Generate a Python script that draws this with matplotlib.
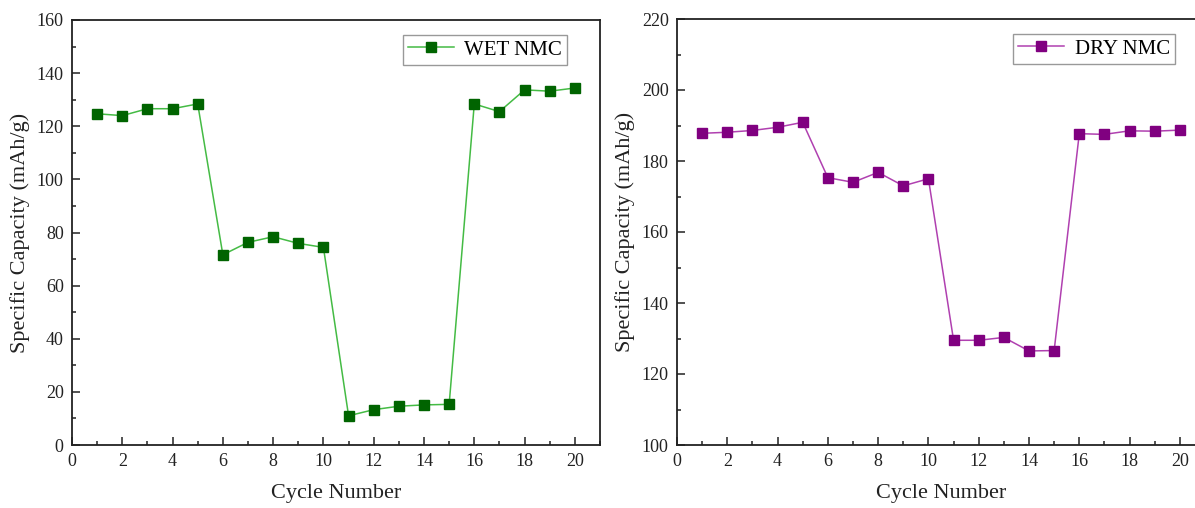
import matplotlib
matplotlib.use('Agg')
import matplotlib.pyplot as plt
from matplotlib.ticker import MultipleLocator

# Cycle numbers shared by both panels
cycles = list(range(1, 21))
# Specific capacity of the wet-processed NMC (mAh/g)
wet_capacity = [124.7, 124.0, 126.6, 126.6, 128.4, 71.6, 76.3, 78.4, 75.9, 74.4,
                11.0, 13.3, 14.6, 15.1, 15.3, 128.4, 125.5, 133.7, 133.2, 134.4]
# Specific capacity of the dry-processed NMC (mAh/g)
dry_capacity = [187.8, 188.1, 188.6, 189.5, 190.9, 175.3, 174.0, 176.8, 173.0, 175.0,
                129.5, 129.5, 130.3, 126.5, 126.6, 187.7, 187.5, 188.5, 188.4, 188.7]

plt.rcParams['font.family'] = ['Liberation Serif', 'DejaVu Serif']


def style_axes(ax, ylim, ymajor):
    ax.set_xlim(0, 21)
    ax.set_ylim(*ylim)
    ax.xaxis.set_major_locator(MultipleLocator(2))
    ax.xaxis.set_minor_locator(MultipleLocator(1))
    ax.yaxis.set_major_locator(MultipleLocator(ymajor))
    ax.yaxis.set_minor_locator(MultipleLocator(ymajor / 2))
    ax.tick_params(which='both', direction='in', top=False, right=False,
                   labelsize=13, width=1.1, color='#222222', labelcolor='#222222')
    ax.tick_params(which='major', length=6, pad=6)
    ax.tick_params(which='minor', length=3)
    for s in ax.spines.values():
        s.set_linewidth(1.3)
        s.set_color('#222222')
    ax.set_xlabel('Cycle Number', fontsize=16, labelpad=10, color='#222222')
    ax.set_ylabel('Specific Capacity (mAh/g)', fontsize=16, labelpad=5, color='#222222')


fig = plt.figure(figsize=(11.95, 5.08), dpi=100)
ax1 = fig.add_axes([72 / 1195, 63 / 508, 528 / 1195, 425 / 508])
ax2 = fig.add_axes([677 / 1195, 63 / 508, 528 / 1195, 426 / 508])

ax1.plot(cycles, wet_capacity, color='#44bb44', lw=1.1, marker='s', ms=7,
         mfc='#006400', mec='#006400', label='WET NMC')
style_axes(ax1, (0, 160), 20)
ax1.legend(loc='upper right', bbox_to_anchor=(0.9375, 0.965), fontsize=15,
           fancybox=False, edgecolor='#999999', framealpha=1, borderaxespad=0,
           handlelength=2.2, handletextpad=0.5, borderpad=0.25)

ax2.plot(cycles, dry_capacity, color='#b040b0', lw=1.1, marker='s', ms=7,
         mfc='#800080', mec='#800080', label='DRY NMC')
style_axes(ax2, (100, 220), 20)
ax2.legend(loc='upper right', bbox_to_anchor=(0.943, 0.965), fontsize=15,
           fancybox=False, edgecolor='#999999', framealpha=1, borderaxespad=0,
           handlelength=2.2, handletextpad=0.5, borderpad=0.25)

fig.savefig('out.png', dpi=100)
